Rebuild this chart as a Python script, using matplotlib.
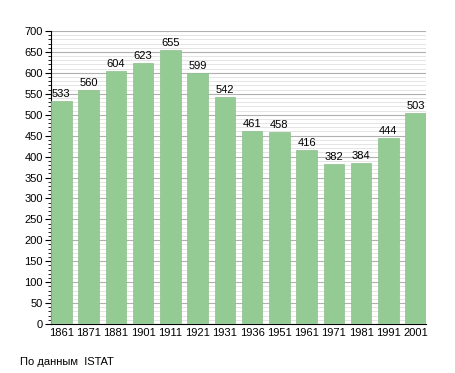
import numpy as np
import matplotlib.pyplot as plt
from matplotlib.ticker import MultipleLocator

years = ['1861', '1871', '1881', '1901', '1911', '1921', '1931',
         '1936', '1951', '1961', '1971', '1981', '1991', '2001']
population = [533, 560, 604, 623, 655, 599, 542, 461, 458, 416, 382, 384, 444, 503]

plt.rcParams['font.family'] = ['Liberation Sans', 'DejaVu Sans']

fig = plt.figure(figsize=(4.55, 3.73), dpi=100)
ax = fig.add_axes([51 / 455, (373 - 324) / 373, 375 / 455, 293 / 373])

x = np.arange(len(years))
width = 0.76
ax.bar(x, population, width=width, color='#94ca94', edgecolor='#8cc08c', linewidth=0.5, zorder=3)

# value labels above each bar
for xi, v in zip(x, population):
    ax.text(xi, v + 5, str(v), ha='center', va='bottom', fontsize=8, zorder=4)

ax.set_xlim(-width / 2, len(years) - 1 + width / 2)
ax.set_ylim(0, 700)
ax.yaxis.set_major_locator(MultipleLocator(50))
ax.yaxis.set_minor_locator(MultipleLocator(10))
ax.grid(which='major', axis='y', color='#b0b0b0', linewidth=0.8, zorder=0)
ax.grid(which='minor', axis='y', color='#e0e0e0', linewidth=0.6, zorder=0)

ax.set_xticks(x)
ax.set_xticklabels(years)
ax.tick_params(axis='x', length=0, labelsize=8, pad=3)
ax.tick_params(axis='y', which='major', length=4, labelsize=8, pad=2)
ax.tick_params(axis='y', which='minor', length=2)

ax.spines['top'].set_visible(False)
ax.spines['right'].set_visible(False)

fig.text(20 / 455, 1 - 362 / 373, 'По данным  ISTAT', fontsize=8, va='center', ha='left')

fig.savefig('out.png', dpi=100)
